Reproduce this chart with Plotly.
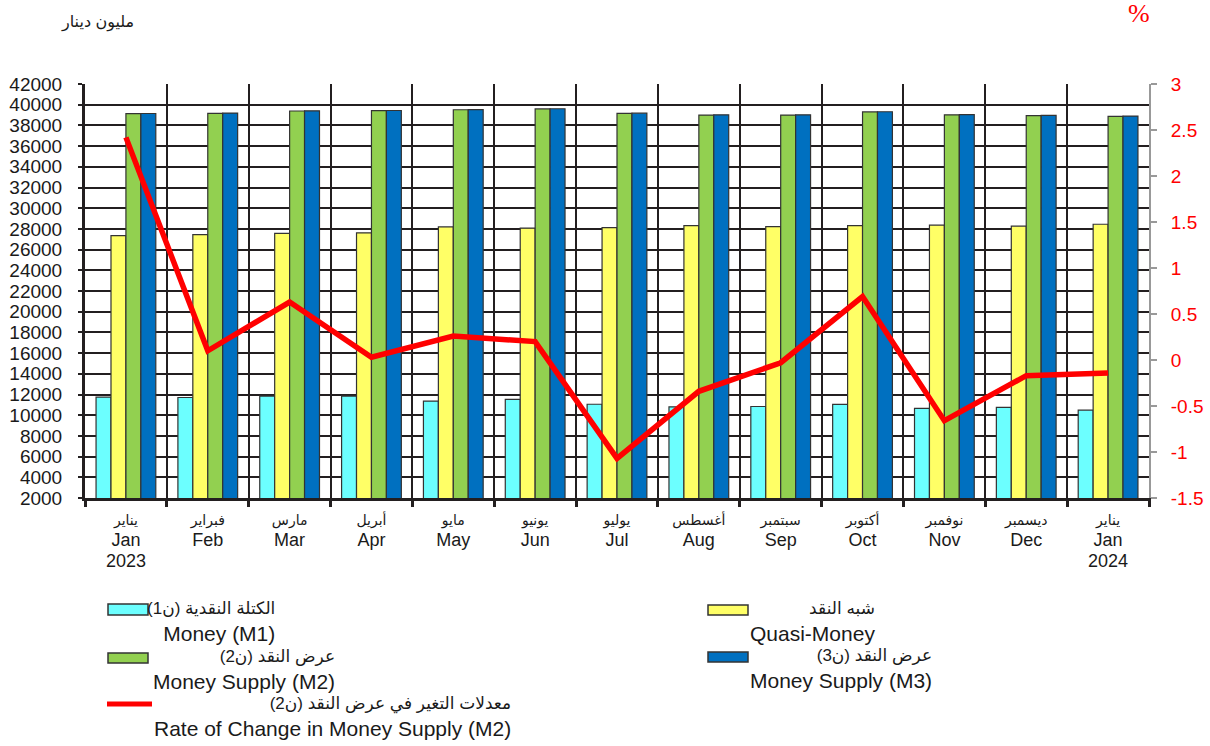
import plotly.graph_objects as go

# ---------------- data ----------------
months_ar = ["يناير", "فبراير", "مارس", "أبريل", "مايو", "يونيو", "يوليو",
             "أغسطس", "سبتمبر", "أكتوبر", "نوفمبر", "ديسمبر", "يناير"]
months_en = ["Jan", "Feb", "Mar", "Apr", "May", "Jun", "Jul",
             "Aug", "Sep", "Oct", "Nov", "Dec", "Jan"]
years = ["2023", "", "", "", "", "", "", "", "", "", "", "", "2024"]

money_m1 = [11750, 11710, 11850, 11850, 11360, 11520, 11060,
            10810, 10840, 11040, 10660, 10760, 10490]
quasi_money = [27350, 27450, 27560, 27620, 28190, 28070, 28130,
               28320, 28220, 28320, 28360, 28260, 28450]
money_m2 = [39130, 39170, 39390, 39420, 39510, 39590, 39160,
            39000, 39000, 39300, 39020, 38940, 38880]
money_m3 = [39150, 39190, 39410, 39440, 39530, 39610, 39180,
            39020, 39020, 39320, 39040, 38960, 38900]
rate_m2 = [2.42, 0.10, 0.63, 0.03, 0.26, 0.20, -1.07,
           -0.34, -0.03, 0.69, -0.66, -0.17, -0.14]

left_ticks = list(range(2000, 42001, 2000))
right_tickvals = [3, 2.5, 2, 1.5, 1, 0.5, 0, -0.5, -1, -1.5]
right_ticktext = ["3", "2.5", "2", "1.5", "1", "0.5", "0", "-0.5", "-1", "-1.5"]

unit_title = "مليون دينار"
pct_title = "%"

legend_items = [
    ("الكتلة النقدية (ن1)", "Money (M1)"),
    ("شبه النقد", "Quasi-Money"),
    ("عرض النقد (ن2)", "Money Supply (M2)"),
    ("عرض النقد (ن3)", "Money Supply (M3)"),
    ("معدلات التغير في عرض النقد (ن2)", "Rate of Change in Money Supply (M2)"),
]

# ---------------- styles ----------------
C_M1 = "#6CFFFF"
C_QM = "#FFFF66"
C_M2 = "#92D050"
C_M3 = "#0070C0"
C_RED = "#FF0000"
OUTLINE = "#333333"
GRID = "#231F20"
FONT = "Liberation Sans, Arial, DejaVu Sans, sans-serif"

W_FIG, H_FIG = 1210, 746
L, R, T, B = 85, 61, 84, 248
PW, PH = W_FIG - L - R, H_FIG - T - B


def px(x):
    return (x - L) / PW


def py(y):
    return 1 - (y - T) / PH


x = list(range(len(months_en)))
ticktext = []
for ar, en, yr in zip(months_ar, months_en, years):
    t = f"<span style='font-size:14px'>{ar}</span><br><span style='font-size:18px'>{en}</span>"
    if yr:
        t += f"<br><span style='font-size:18px'>{yr}</span>"
    ticktext.append(t)

fig = go.Figure()
bar_line = dict(color=OUTLINE, width=1.2)
for name, vals, col in [
    ("Money (M1)", money_m1, C_M1),
    ("Quasi-Money", quasi_money, C_QM),
    ("Money Supply (M2)", money_m2, C_M2),
    ("Money Supply (M3)", money_m3, C_M3),
]:
    fig.add_trace(go.Bar(x=x, y=vals, name=name,
                         marker=dict(color=col, line=bar_line),
                         yaxis="y"))

fig.add_trace(go.Scatter(x=x, y=rate_m2, name="Rate of Change in Money Supply (M2)",
                         mode="lines", line=dict(color=C_RED, width=5.5),
                         yaxis="y2"))

# legend (drawn manually to match the two-column bilingual layout)
shapes = []
annotations = []
sw = [  # swatch boxes (x0, x1, y0, y1) in pixels, colour
    ((108, 148, 604, 615), C_M1),
    ((708, 748, 605, 615), C_QM),
    ((108, 148, 653, 663), C_M2),
    ((708, 748, 652, 662), C_M3),
]
for (x0, x1, y0, y1), col in sw:
    shapes.append(dict(type="rect", xref="paper", yref="paper",
                       x0=px(x0), x1=px(x1), y0=py(y1), y1=py(y0),
                       fillcolor=col, line=dict(color=OUTLINE, width=1.5)))
shapes.append(dict(type="line", xref="paper", yref="paper",
                   x0=px(107), x1=px(152), y0=py(704), y1=py(704),
                   line=dict(color=C_RED, width=5)))

text_pos = [(276, 622), (876, 621.5), (336, 669.5), (933, 669), (512, 716.5)]
for (ar, en), (xr, yc) in zip(legend_items, text_pos):
    annotations.append(dict(
        xref="paper", yref="paper", x=px(xr), y=py(yc),
        xanchor="right", yanchor="middle", align="right", showarrow=False,
        borderpad=0,
        text=f"<span style='font-size:17px'>{ar}\u200f</span><br>{en}",
        font=dict(family=FONT, size=21, color="#1a1a1a")))

annotations.append(dict(xref="paper", yref="paper", x=px(97), y=py(22),
                        xanchor="center", yanchor="middle", showarrow=False,
                        text=unit_title,
                        font=dict(family=FONT, size=16, color="#1a1a1a")))
annotations.append(dict(xref="paper", yref="paper", x=px(1139), y=py(14),
                        xanchor="center", yanchor="middle", showarrow=False,
                        text=pct_title,
                        font=dict(family="Liberation Serif, serif", size=26, color=C_RED)))

fig.update_layout(
    width=W_FIG, height=H_FIG,
    margin=dict(l=L, r=R, t=T, b=B, pad=0, autoexpand=False),
    paper_bgcolor="white", plot_bgcolor="white",
    barmode="group", bargap=0.27, bargroupgap=0,
    showlegend=False,
    font=dict(family=FONT, color="#1a1a1a"),
    xaxis=dict(
        range=[-0.5, 12.5], tickvals=x, ticktext=ticktext, automargin=False,
        tickfont=dict(size=16, family=FONT, color="#1a1a1a"),
        ticks="", showgrid=False, zeroline=False,
        showline=True, linecolor=GRID, linewidth=3,
        minor=dict(tickmode="array", tickvals=[i - 0.5 for i in range(14)],
                   showgrid=True, gridcolor=GRID, gridwidth=2,
                   ticks="outside", ticklen=6, tickwidth=3, tickcolor=GRID),
        ticklabelstandoff=5,
    ),
    yaxis=dict(
        range=[2000, 42000], tickvals=left_ticks, tickformat="d", automargin=False,
        tickfont=dict(size=19, family=FONT, color="#1a1a1a"),
        showgrid=True, gridcolor=GRID, gridwidth=2, zeroline=False,
        showline=True, linecolor=GRID, linewidth=3,
        ticks="outside", ticklen=4, tickwidth=2, tickcolor=GRID,
        ticklabelstandoff=12,
    ),
    yaxis2=dict(
        overlaying="y", side="right", range=[-1.5, 3], automargin=False,
        tickvals=right_tickvals, ticktext=right_ticktext,
        tickfont=dict(size=19, family=FONT, color=C_RED),
        showgrid=False, zeroline=False,
        showline=True, linecolor="#999999", linewidth=2,
        ticks="outside", ticklen=6, tickwidth=1.5, tickcolor="#999999",
        ticklabelstandoff=10,
    ),
    shapes=shapes, annotations=annotations,
)

fig.write_html("out.html", config={"displayModeBar": False},
               post_script="document.body.style.margin='0';")
